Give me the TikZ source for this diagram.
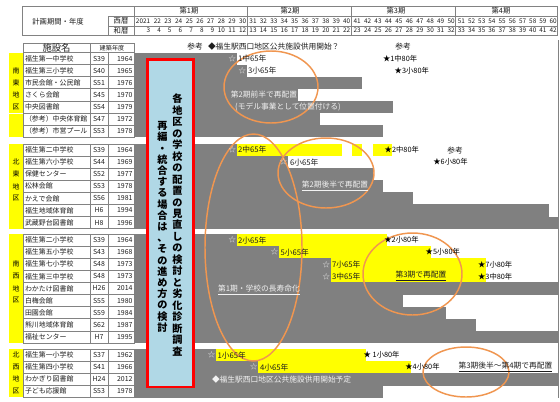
\documentclass[tikz,border=0pt]{standalone}
\usepackage{fontspec}
\setmainfont{Noto Sans CJK JP}
\definecolor{bargray}{RGB}{128,128,128}
\definecolor{yel}{RGB}{255,255,0}
\definecolor{lblue}{RGB}{176,216,230}
\definecolor{orng}{RGB}{240,150,80}
\definecolor{gridc}{RGB}{130,130,130}
\definecolor{ltxt}{RGB}{242,242,242}
\definecolor{dtxt}{RGB}{30,30,30}
\newcommand\facgroup[4]{%
  \foreach [count=\k from 0] \nm/\fs/\yy in {#4}{
    \pgfmathsetmacro{\ty}{#1+\k*#2}
    \pgfmathsetmacro{\by}{#1+(\k+1)*#2}
    \pgfmathsetmacro{\cy}{#1+(\k+0.5)*#2}
    \draw[grid] (23,\ty) rectangle (134,\by) (90,\ty)--(90,\by) (108,\ty)--(108,\by);
    \node[tb,anchor=west] (#3n\k) at (25,\cy) {\nm};
    \node[tb] (#3s\k) at (99,\cy) {\fs};
    \node[tb,anchor=east] (#3y\k) at (132.5,\cy) {\yy};
  }%
}
\begin{document}
\begin{tikzpicture}[x=0.75pt,y=-0.75pt,
  every node/.style={inner sep=0pt,outer sep=0pt},
  grid/.style={draw=gridc,line width=0.4pt},
  hdr/.style={font=\fontsize{5.5}{6}\selectfont,text=dtxt},
  yr/.style={font=\fontsize{4.8}{5}\selectfont,text=dtxt,anchor=east},
  tb/.style={font=\fontsize{5.2}{6}\selectfont,text=dtxt},
  lbl/.style={font=\fontsize{5.8}{6}\selectfont,text=dtxt},
  ltx/.style={font=\fontsize{5.8}{6}\selectfont,text=ltxt},
  wstar/.style={font=\fontsize{5.5}{6}\selectfont,text=ltxt},
  bstar/.style={font=\fontsize{5.5}{6}\selectfont,text=black,anchor=west},
  oval/.style={draw=orng,line width=1.1pt},
  vtr/.style={font=\fontsize{7.6}{8.62}\selectfont\bfseries,align=center,text=black},
  vtl/.style={font=\fontsize{7.6}{8.4}\selectfont\bfseries,align=center,text=black}
]
\useasboundingbox (0,0) rectangle (560,401);
\fill[white] (0,0) rectangle (560,401);

% ---------- header table ----------
\draw[grid] (22,6) rectangle (557.5,35);
\draw[grid] (134,6)--(134,35) (108,16)--(108,35) (108,16)--(557.5,16) (108,26)--(557.5,26)
  (247,6)--(247,35) (351,6)--(351,35) (455.5,6)--(455.5,35);
\node[hdr] (plan) at (58,22) {計画期間・年度};
\node[hdr] (seireki) at (121,21) {西暦};
\node[hdr] (wareki) at (121,30.5) {和暦};
\node[hdr] (p1) at (189,11) {第1期};
\node[hdr] (p2) at (290,11) {第2期};
\node[hdr] (p3) at (396,11) {第3期};
\node[hdr] (p4) at (501,11) {第4期};
\foreach \i in {0,...,9}{
  \pgfmathsetmacro{\rr}{151+\i*10.67}
  \pgfmathtruncatemacro{\ya}{21+\i}
  \pgfmathtruncatemacro{\yb}{3+\i}
  \node[yr] (ya\i) at (\rr-0.8,21) {\ifnum\i=0 2021\else\ya\fi};
  \node[yr] (yb\i) at (\rr-0.8,30.5) {\yb};
}
\foreach \p/\x/\w in {1/247/10.4,2/351/10.45,3/455.5/10.2}{
  \foreach \i in {0,...,9}{
    \pgfmathsetmacro{\rr}{\x+(\i+1)*\w}
    \pgfmathtruncatemacro{\ya}{21+\p*10+\i}
    \pgfmathtruncatemacro{\yb}{3+\p*10+\i}
    \node[yr] (ya\p\i) at (\rr-0.8,21) {\ya};
    \node[yr] (yb\p\i) at (\rr-0.8,30.5) {\yb};
  }
}

% ---------- facility table ----------
\draw[grid] (23,43) rectangle (90,52.5);
\draw[grid] (90,43) rectangle (134,52.5);
\node[font=\fontsize{7}{8}\selectfont,text=dtxt] (shisetsu) at (56.5,47.6) {施設名};
\node[font=\fontsize{4.6}{5}\selectfont,text=dtxt] (kenchiku) at (112,47.8) {建築年度};

\fill[yel] (9,52.5) rectangle (23,112.9);
\fill[yel] (9,113.8) rectangle (23,137);
\fill[yel] (9,144) rectangle (23,228.6);
\fill[yel] (9,234) rectangle (23,342.9);
\fill[yel] (9,349) rectangle (23,397.4);

\facgroup{52.5}{12.07}{A}{福生第一中学校/S39/1964,福生第三小学校/S40/1965,市民会館・公民館/S51/1976,さくら会館/S45/1970,中央図書館/S54/1979,（参考）中央体育館/S47/1972,（参考）市営プール/S53/1978}
\facgroup{144}{12.09}{B}{福生第二中学校/S39/1964,福生第六小学校/S44/1969,保健センター/S52/1977,松林会館/S53/1978,かえで会館/S56/1981,福生地域体育館/H6/1994,武蔵野台図書館/H8/1996}
\facgroup{234}{12.1}{C}{福生第二小学校/S39/1964,福生第五小学校/S43/1968,福生第七小学校/S48/1973,福生第三中学校/S48/1973,わかたけ図書館/H26/2014,白梅会館/S55/1980,田園会館/S59/1984,熊川地域体育館/S62/1987,福祉センター/H7/1995}
\facgroup{349}{12.1}{D}{福生第一小学校/S37/1962,福生第四小学校/S41/1966,わかぎり図書館/H24/2012,子ども応援館/S53/1978}

\foreach [count=\k] \ch/\yy in {南/70.6,東/82.7,地/94.7,区/106.8}
  \node[tb,text=black] (dA\k) at (16,\yy) {\ch};
\foreach [count=\k] \ch/\yy in {北/162.1,東/174.2,地/186.3,区/198.4}
  \node[tb,text=black] (dB\k) at (16,\yy) {\ch};
\foreach [count=\k] \ch/\yy in {南/264.25,西/276.35,地/288.45,区/300.55}
  \node[tb,text=black] (dC\k) at (16,\yy) {\ch};
\foreach [count=\k] \ch/\yy in {北/355.05,西/367.15,地/379.25,区/391.35}
  \node[tb,text=black] (dD\k) at (16,\yy) {\ch};

% ---------- chart bars ----------
\foreach [count=\k from 0] \e in {236.7,246.7,362,298,393,320,383}
  \fill[bargray] (134,52.5+\k*12.07) rectangle (\e,52.5+\k*12.07+12.37);
\foreach [count=\k from 0] \e in {236.7,288,372.7,382.7,413,549,557.5}
  \fill[bargray] (134,144+\k*12.09) rectangle (\e,144+\k*12.09+12.39);
\foreach [count=\k from 0] \e in {236.7,279,330.7,330.7,557.5,403,445.7,476,557.5}
  \fill[bargray] (134,234+\k*12.1) rectangle (\e,234+\k*12.1+12.4);
\foreach [count=\k from 0] \e in {216,258.3,557.5,383.3}
  \fill[bargray] (134,349+\k*12.1) rectangle (\e,349+\k*12.1+12.4);

% yellow segments
\fill[yel] (236.7,144) rectangle (341.7,156.1);
\fill[yel] (351.7,144) rectangle (361.7,156.1);
\fill[yel] (372.7,144) rectangle (391.5,156.1);
\fill[yel] (236.7,234) rectangle (386.7,246.1);
\fill[yel] (279,246.1) rectangle (430.5,258.2);
\fill[yel] (330.7,258.2) rectangle (486,282.4);
\fill[yel] (216,349) rectangle (365.5,361.1);
\fill[yel] (258.3,361.1) rectangle (411,373.2);

\draw[gridc,line width=0.4pt] (558,40)--(558,398);

% ---------- red box ----------
\draw[red,fill=lblue,line width=2pt] (147.5,59.5) rectangle (193.5,387);
\node[vtr] (vright) at (177.5,225) {各\\地\\区\\の\\学\\校\\の\\配\\置\\の\\見\\直\\し\\の\\検\\討\\と\\劣\\化\\診\\断\\調\\査};
\node[vtl] (vleft) at (162.5,226.8) {再\\編\\・\\統\\合\\す\\る\\場\\合\\は\\、\\そ\\の\\進\\め\\方\\の\\検\\討};

% ---------- ovals ----------
\draw[oval] (271,87) ellipse [x radius=47, y radius=36];
\draw[oval] (326,173) ellipse [x radius=48, y radius=35];
\draw[oval] (253.5,247.5) ellipse [x radius=48.5, y radius=113.5];
\draw[oval] (412.5,274) ellipse [x radius=49.5, y radius=41];
\draw[oval] (466,372) ellipse [x radius=43, y radius=25];

% ---------- stars and labels ----------
\node[wstar] (sA1) at (232.2,58.5) {☆};
\node[lbl,anchor=west] (lA1) at (238,58.5) {1中65年};
\node[bstar] (kA1) at (383,58.5) {★1中80年};
\node[wstar] (sA2) at (242.2,70.6) {☆};
\node[lbl,anchor=west] (lA2) at (248,70.6) {3小65年};
\node[bstar] (kA2) at (394.7,70.6) {★3小80年};

\node[wstar] (sB1) at (232.2,150) {☆};
\node[lbl,anchor=west] (lB1) at (238,150) {2中65年};
\node[bstar] (kB1) at (384.7,150) {★2中80年};
\node[wstar] (sB2) at (283.5,162.1) {☆};
\node[lbl,anchor=west] (lB2) at (290,162.1) {6小65年};
\node[bstar] (kB2) at (433.4,162.1) {★6小80年};

\node[wstar] (sC1) at (232.2,240.05) {☆};
\node[lbl,anchor=west] (lC1) at (238,240.05) {2小65年};
\node[bstar] (kC1) at (384.4,240.05) {★2小80年};
\node[wstar] (sC2) at (274.5,252.15) {☆};
\node[lbl,anchor=west] (lC2) at (280.5,252.15) {5小65年};
\node[bstar] (kC2) at (425.7,252.15) {★5小80年};
\node[wstar] (sC3) at (326.2,264.25) {☆};
\node[lbl,anchor=west] (lC3) at (332,264.25) {7小65年};
\node[bstar] (kC3) at (478.1,264.25) {★7小80年};
\node[wstar] (sC4) at (326.2,276.35) {☆};
\node[lbl,anchor=west] (lC4) at (332,276.35) {3中65年};
\node[bstar] (kC4) at (478.1,276.35) {★3中80年};

\node[wstar] (sD1) at (211.5,355.05) {☆};
\node[lbl,anchor=west] (lD1) at (217.5,355.05) {1小65年};
\node[bstar] (kD1) at (363.7,355.05) {★ 1小80年};
\node[wstar] (sD2) at (253.8,367.15) {☆};
\node[lbl,anchor=west] (lD2) at (260,367.15) {4小65年};
\node[bstar] (kD2) at (405.4,367.15) {★4小80年};

% ---------- notes ----------
\node[lbl] (refA) at (195,47) {参考};
\node[lbl,anchor=west] (westA) at (208,47) {◆福生駅西口地区公共施設供用開始？};
\node[lbl] (refA2) at (403,47) {参考};
\node[lbl] (refB) at (455,150.7) {参考};
\node[ltx] (note1) at (264,94.7) {第2期前半で再配置};
\node[ltx] (note2) at (288,106.8) {(モデル事業として位置付ける)};
\node[ltx] (note3) at (335,186.3) {\underline{第2期後半で再配置}};
\node[ltx] (note4) at (259,290) {\underline{第1期・学校の長寿命化}};
\node[lbl] (note5) at (421,276.35) {\underline{第3期で再配置}};
\node[ltx,anchor=west] (note6) at (212,379.25) {◆福生駅西口地区公共施設供用開始予定};
\node[lbl] (note7) at (505.5,367.15) {\underline{第3期後半〜第4期で再配置}};
\end{tikzpicture}
\end{document}
